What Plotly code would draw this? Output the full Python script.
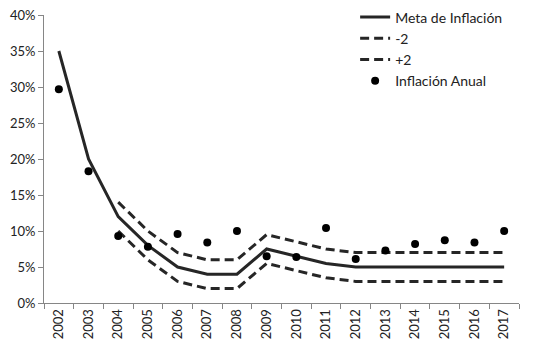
import plotly.graph_objects as go

years = [str(y) for y in range(2002, 2018)]
meta = [35, 20, 12, 8, 5, 4, 4, 7.5, 6.5, 5.5, 5, 5, 5, 5, 5, 5]
lower = [None, None, 10, 6, 3, 2, 2, 5.5, 4.5, 3.5, 3, 3, 3, 3, 3, 3]
upper = [None, None, 14, 10, 7, 6, 6, 9.5, 8.5, 7.5, 7, 7, 7, 7, 7, 7]
anual = [29.7, 18.3, 9.3, 7.8, 9.6, 8.4, 10.0, 6.5, 6.4, 10.4, 6.1, 7.3, 8.2, 8.7, 8.4, 10.0]

to_frac = lambda arr: [None if v is None else v / 100 for v in arr]

col = "#262626"
fig = go.Figure()
fig.add_trace(go.Scatter(x=years, y=to_frac(meta), mode="lines", name="Meta de Inflación",
                         line=dict(color=col, width=3)))
fig.add_trace(go.Scatter(x=years, y=to_frac(lower), mode="lines", name="-2",
                         line=dict(color=col, width=3, dash="9px,5px")))
fig.add_trace(go.Scatter(x=years, y=to_frac(upper), mode="lines", name="+2",
                         line=dict(color=col, width=3, dash="9px,5px")))
fig.add_trace(go.Scatter(x=years, y=to_frac(anual), mode="markers", name="Inflación Anual",
                         marker=dict(color="black", size=8)))

font = "Lato, 'Open Sans', sans-serif"
fig.update_layout(
    width=529, height=355,
    margin=dict(l=36, r=18, t=7, b=60, autoexpand=False),
    paper_bgcolor="white", plot_bgcolor="white",
    font=dict(family=font, size=13, color="#222222"),
    showlegend=True,
    legend=dict(x=0.655, y=1.047, xanchor="left", yanchor="top",
                bgcolor="rgba(0,0,0,0)", font=dict(size=14, color="#222222"),
                tracegroupgap=0, itemwidth=30),
    xaxis=dict(type="category", range=[-0.5, 15.5], tickangle=-90, showgrid=False, showline=True,
               linecolor="#868686", linewidth=1, ticks="outside", tickson="boundaries",
               ticklen=5, tickcolor="#868686", tickfont=dict(size=13), automargin=False),
    yaxis=dict(range=[0, 0.4], dtick=0.05, tickformat=".0%", showgrid=False,
               showline=True, linecolor="#868686", linewidth=1, ticks="outside",
               ticklen=5, tickcolor="#868686", zeroline=False, tickfont=dict(size=13),
               automargin=False, ticklabeloverflow="allow"),
)
fig.write_html("out.html")
